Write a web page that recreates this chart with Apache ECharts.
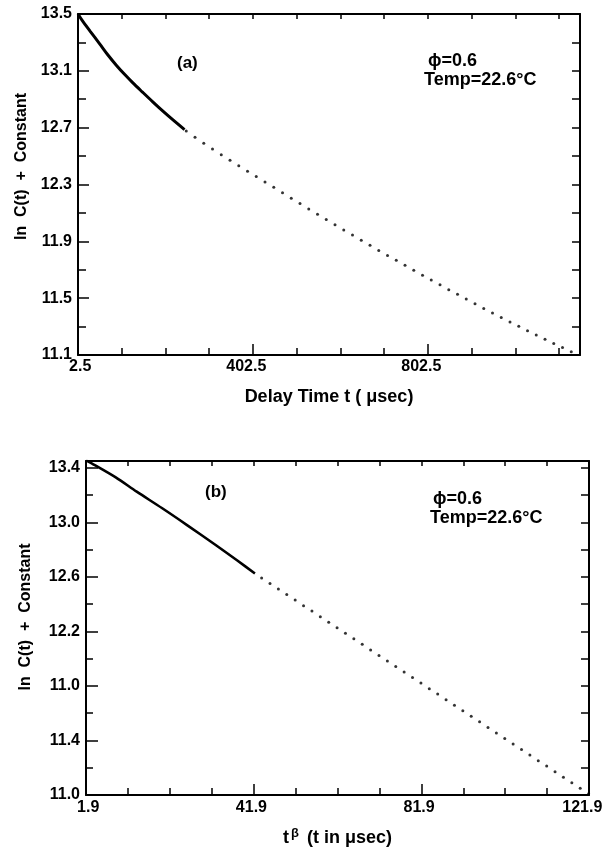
<!DOCTYPE html>
<html>
<head>
<meta charset="utf-8">
<script src="https://cdn.jsdelivr.net/npm/echarts@6/dist/echarts.min.js"></script>
<style>
  html, body { margin: 0; padding: 0; background: #fff; }
  #chart { width: 602px; height: 848px; }
</style>
</head>
<body>
<div id="chart"></div>
<script>
// ---- panel (a): ln C(t) vs delay time t ----
var aSolidT = [2.5, 12, 30, 52, 70, 90, 110, 128, 150, 174, 196, 219, 246];
var aSolidY = [13.50, 13.455, 13.38, 13.29, 13.215, 13.14, 13.072, 13.015, 12.95, 12.88, 12.818, 12.756, 12.686];
var aDotT = [250, 270, 290, 310, 330, 350, 370, 390, 410, 430, 450, 470, 490, 510, 530,
             550, 570, 590, 610, 630, 650, 670, 690, 710, 730, 750, 770, 790, 810, 830,
             850, 870, 890, 910, 930, 950, 970, 990, 1010, 1030, 1050, 1070, 1090, 1110, 1130];
var aDotY = [12.676, 12.633, 12.591, 12.550, 12.510, 12.471, 12.432, 12.394, 12.356, 12.318, 12.280, 12.242, 12.204, 12.166, 12.128,
             12.091, 12.054, 12.017, 11.980, 11.944, 11.908, 11.872, 11.836, 11.801, 11.766, 11.731, 11.696, 11.662, 11.628, 11.594,
             11.560, 11.527, 11.494, 11.461, 11.428, 11.396, 11.364, 11.333, 11.302, 11.271, 11.241, 11.211, 11.181, 11.152, 11.123];
var aXTicks = [2.5, 402.5, 802.5];
var aXLabels = ['2.5', '402.5', '802.5'];
var aXMinor = [102.5, 202.5, 302.5, 502.5, 602.5, 702.5, 902.5, 1002.5, 1102.5];
var aYTicks = [11.1, 11.5, 11.9, 12.3, 12.7, 13.1, 13.5];
var aYLabels = ['11.1', '11.5', '11.9', '12.3', '12.7', '13.1', '13.5'];
var aYMinor = [11.3, 11.7, 12.1, 12.5, 12.9, 13.3];

// ---- panel (b): ln C(t) vs t^beta ----
var bSolidX = [1.9, 4, 9, 14, 20, 26, 33, 38, 42.2];
var bSolidY = [13.455, 13.42, 13.33, 13.225, 13.105, 12.98, 12.83, 12.72, 12.625];
var bDotX = [43.8, 45.8, 47.8, 49.8, 51.8, 53.8, 55.8, 57.8, 59.8, 61.8, 63.8, 65.8, 67.8, 69.8, 71.8, 73.8, 75.8, 77.8, 79.8, 81.8,
             83.8, 85.8, 87.8, 89.8, 91.8, 93.8, 95.8, 97.8, 99.8, 101.8, 103.8, 105.8, 107.8, 109.8, 111.8, 113.8, 115.8, 117.8, 119.8, 121.8];
var bDotY = [12.592, 12.552, 12.511, 12.470, 12.430, 12.389, 12.349, 12.308, 12.267, 12.227, 12.186, 12.146, 12.105, 12.064, 12.024, 11.983, 11.943, 11.902, 11.861, 11.821,
             11.780, 11.740, 11.699, 11.658, 11.618, 11.577, 11.537, 11.496, 11.455, 11.415, 11.374, 11.334, 11.293, 11.252, 11.212, 11.171, 11.131, 11.090, 11.049, 11.009];
var bXTicks = [1.9, 41.9, 81.9, 121.9];
var bXLabels = ['1.9', '41.9', '81.9', '121.9'];
var bXMinor = [11.9, 21.9, 31.9, 51.9, 61.9, 71.9, 91.9, 101.9, 111.9];
var bYTicks = [11.0, 11.4, 11.8, 12.2, 12.6, 13.0, 13.4];
var bYLabels = ['11.0', '11.4', '11.0', '12.2', '12.6', '13.0', '13.4'];
var bYMinor = [11.2, 11.6, 12.0, 12.4, 12.8, 13.2];

var FONT = 'Liberation Sans';
var LABEL_SIZE = 16;

function pairs(xs, ys) {
  return xs.map(function (x, i) { return [x, ys[i]]; });
}
function pick(vals, labels, v) {
  for (var i = 0; i < vals.length; i++) {
    if (Math.abs(vals[i] - v) < 1e-6) return i;
  }
  return -1;
}

// one axis = one set of inward ticks; labels only on the main one
function axis(grid, pos, min, max, ticks, len, showLine) {
  return {
    type: 'value', gridIndex: grid, position: pos, min: min, max: max,
    axisLine: { show: showLine, onZero: false, lineStyle: { color: '#000', width: 2 } },
    axisTick: { show: true, inside: true, length: len, customValues: ticks,
                lineStyle: { color: '#000', width: 1.5 } },
    axisLabel: { show: false },
    splitLine: { show: false }
  };
}

// x labels sit with their decimal point on the tick, so pad one side
var measure = document.createElement('canvas').getContext('2d');
measure.font = 'bold ' + LABEL_SIZE + 'px "' + FONT + '"';

function xLabel(vals, labels, margin) {
  var rich = { t: { fontFamily: FONT, fontWeight: 'bold', fontSize: LABEL_SIZE, color: '#000' } };
  var texts = labels.map(function (s, k) {
    var dot = s.indexOf('.');
    var wi = measure.measureText(s.slice(0, dot)).width;
    var wf = measure.measureText(s.slice(dot)).width;
    rich['e' + k] = { width: Math.max(1, Math.abs(wi - wf)), fontSize: LABEL_SIZE };
    return wi >= wf ? '{t|' + s + '}{e' + k + '| }' : '{e' + k + '| }{t|' + s + '}';
  });
  return {
    show: true, customValues: vals, margin: margin,
    formatter: function (v) { var i = pick(vals, labels, v); return i < 0 ? '' : texts[i]; },
    rich: rich
  };
}
function yLabel(vals, labels) {
  return {
    show: true, customValues: vals, margin: 6,
    fontFamily: FONT, fontWeight: 'bold', fontSize: LABEL_SIZE, color: '#000',
    formatter: function (v) { var i = pick(vals, labels, v); return i < 0 ? '' : labels[i]; }
  };
}

var aX0 = axis(0, 'bottom', 2.5, 1150, aXTicks, 11, true);
aX0.axisLabel = xLabel(aXTicks, aXLabels, 4);
aX0.name = 'Delay Time t ( \u03bcsec)';
aX0.nameLocation = 'middle';
aX0.nameGap = 33;
aX0.nameMoveOverlap = false;
aX0.nameTextStyle = { fontFamily: FONT, fontWeight: 'bold', fontSize: 18, color: '#000' };

var aY0 = axis(0, 'left', 11.1, 13.5, aYTicks, 11, true);
aY0.axisLabel = yLabel(aYTicks, aYLabels);
aY0.name = 'ln  C(t)  +  Constant';
aY0.nameLocation = 'middle';
aY0.nameRotate = 90;
aY0.nameGap = 48;
aY0.nameMoveOverlap = false;
aY0.nameTextStyle = { fontFamily: FONT, fontWeight: 'bold', fontSize: 16, color: '#000', padding: [0, 0, 0, 36] };

var bX0 = axis(1, 'bottom', 1.9, 121.9, bXTicks, 11, true);
bX0.axisLabel = xLabel(bXTicks, bXLabels, 5);
bX0.name = '{t|t}{s|\u03b2}{t| (t in \u03bcsec)}';
bX0.nameLocation = 'middle';
bX0.nameGap = 32;
bX0.nameMoveOverlap = false;
bX0.nameTextStyle = {
  fontFamily: FONT, fontWeight: 'bold', fontSize: 18, color: '#000',
  rich: {
    t: { fontFamily: FONT, fontWeight: 'bold', fontSize: 18, color: '#000' },
    s: { fontFamily: FONT, fontWeight: 'bold', fontSize: 13, color: '#000', padding: [0, 3, 10, 2] }
  }
};

var bY0 = axis(1, 'left', 11.0, 13.45, bYTicks, 12, true);
bY0.axisLabel = yLabel(bYTicks, bYLabels);
bY0.name = 'ln  C(t)  +  Constant';
bY0.nameLocation = 'middle';
bY0.nameRotate = 90;
bY0.nameGap = 52;
bY0.nameMoveOverlap = false;
bY0.nameTextStyle = { fontFamily: FONT, fontWeight: 'bold', fontSize: 16, color: '#000', padding: [0, 0, 0, 22] };

var option = {
  backgroundColor: '#fff',
  animation: false,
  grid: [
    { left: 78, top: 14, width: 502, height: 341, outerBoundsMode: 'none' },
    { left: 86, top: 461, width: 503, height: 334, outerBoundsMode: 'none' }
  ],
  xAxis: [
    aX0,
    axis(0, 'bottom', 2.5, 1150, aXMinor, 7, false),
    axis(0, 'top', 2.5, 1150, aXTicks.concat(aXMinor), 5, true),
    bX0,
    axis(1, 'bottom', 1.9, 121.9, bXMinor, 7, false),
    axis(1, 'top', 1.9, 121.9, bXTicks.concat(bXMinor), 5, true)
  ],
  yAxis: [
    aY0,
    axis(0, 'left', 11.1, 13.5, aYMinor, 8, false),
    axis(0, 'right', 11.1, 13.5, aYTicks.concat(aYMinor), 8, true),
    bY0,
    axis(1, 'left', 11.0, 13.45, bYMinor, 7, false),
    axis(1, 'right', 11.0, 13.45, bYTicks.concat(bYMinor), 8, true)
  ],
  graphic: [
    { type: 'text', left: 177, top: 55, style: { text: '(a)', font: 'bold 17px "Liberation Sans"', fill: '#000' } },
    { type: 'text', left: 428, top: 52, style: { text: '\u03d5=0.6', font: 'bold 18px "Liberation Sans"', fill: '#000' } },
    { type: 'text', left: 424, top: 71, style: { text: 'Temp=22.6\u00b0C', font: 'bold 18px "Liberation Sans"', fill: '#000' } },
    { type: 'text', left: 205, top: 484, style: { text: '(b)', font: 'bold 17px "Liberation Sans"', fill: '#000' } },
    { type: 'text', left: 433, top: 490, style: { text: '\u03d5=0.6', font: 'bold 18px "Liberation Sans"', fill: '#000' } },
    { type: 'text', left: 430, top: 509, style: { text: 'Temp=22.6\u00b0C', font: 'bold 18px "Liberation Sans"', fill: '#000' } }
  ],
  series: [
    { type: 'line', xAxisIndex: 0, yAxisIndex: 0, data: pairs(aSolidT, aSolidY), smooth: 0.3,
      showSymbol: false, lineStyle: { color: '#000', width: 3 }, silent: true },
    { type: 'scatter', xAxisIndex: 0, yAxisIndex: 0, data: pairs(aDotT, aDotY), symbolSize: 3,
      itemStyle: { color: '#000' }, silent: true },
    { type: 'line', xAxisIndex: 3, yAxisIndex: 3, data: pairs(bSolidX, bSolidY), smooth: 0.3,
      showSymbol: false, lineStyle: { color: '#000', width: 2.6 }, silent: true },
    { type: 'scatter', xAxisIndex: 3, yAxisIndex: 3, data: pairs(bDotX, bDotY), symbolSize: 3,
      itemStyle: { color: '#000' }, silent: true }
  ]
};

var myChart = echarts.init(document.getElementById('chart'));
myChart.setOption(option);
</script>
</body>
</html>
